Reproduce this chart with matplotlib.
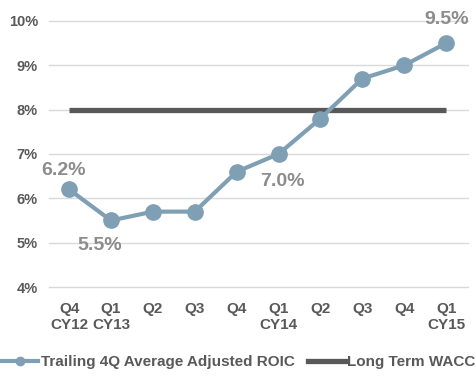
import matplotlib
matplotlib.use("Agg")
import matplotlib.pyplot as plt
from matplotlib.lines import Line2D

plt.rcParams['font.family'] = ['Liberation Sans', 'DejaVu Sans']

quarters = ['Q4\nCY12', 'Q1\nCY13', 'Q2', 'Q3', 'Q4', 'Q1\nCY14', 'Q2', 'Q3', 'Q4', 'Q1\nCY15']
roic = [6.2, 5.5, 5.7, 5.7, 6.6, 7.0, 7.8, 8.7, 9.0, 9.5]
wacc = [8.0] * len(quarters)
yticks = [4, 5, 6, 7, 8, 9, 10]
# (index, text offset in points) for labelled points
labels = {0: (-4, 14), 1: (-8, -18), 5: (3, -20), 9: (0, 17)}

ROIC_COL = '#7F9FB4'
WACC_COL = '#595959'
TEXT_COL = '#595959'
LABEL_COL = '#8C8C8C'

fig = plt.figure(figsize=(4.77, 3.77), dpi=100)
ax = fig.add_axes([0.1027, 0.2387, 0.8783, 0.7057])

x = list(range(len(quarters)))
ax.plot(x, wacc, color=WACC_COL, lw=3.8, solid_capstyle='butt', zorder=2)
ax.plot(x, roic, color=ROIC_COL, lw=3, marker='o', markersize=11, zorder=3)

for i, (dx, dy) in labels.items():
    ax.annotate(f'{roic[i]:.1f}%', (i, roic[i]), xytext=(dx, dy), textcoords='offset points',
                ha='center', va='center', fontsize=14, fontweight='bold', color=LABEL_COL,
                annotation_clip=False)

ax.set_xlim(-0.48, 9.52)
ax.set_ylim(4, 10)
ax.set_yticks(yticks)
ax.set_yticklabels([f'{t}%' for t in yticks])
ax.set_xticks(x)
ax.set_xticklabels(quarters)
ax.grid(axis='y', color='#D9D9D9', lw=1)
ax.set_axisbelow(True)
for s in ax.spines.values():
    s.set_visible(False)
ax.tick_params(length=0, labelsize=10.5, labelcolor=TEXT_COL)
ax.tick_params(axis='x', pad=11)
ax.tick_params(axis='y', pad=8)
for t in ax.get_xticklabels() + ax.get_yticklabels():
    t.set_fontweight('bold')
for t in ax.get_xticklabels():
    t.set_fontsize(11)
for gl in ax.get_ygridlines():
    gl.set_clip_on(False)

handles = [Line2D([], [], color=ROIC_COL, lw=3, marker='o', markersize=6),
           Line2D([], [], color=WACC_COL, lw=3.8)]
leg = fig.legend(handles, ['Trailing 4Q Average Adjusted ROIC', 'Long Term WACC'],
                 loc='center', bbox_to_anchor=(0.5, 0.04), ncol=2, frameon=False,
                 handlelength=2.4, handletextpad=0.15, columnspacing=0.9,
                 prop={'size': 11, 'weight': 'bold'})
for t in leg.get_texts():
    t.set_color(TEXT_COL)

fig.savefig('out.png', dpi=100)
